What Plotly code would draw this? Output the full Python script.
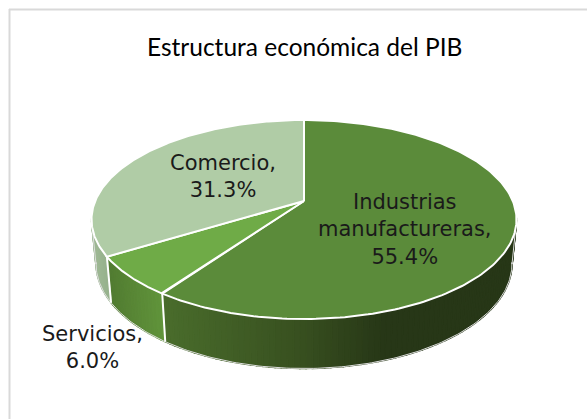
import numpy as np
import plotly.graph_objects as go

# --- data ---
categories = ["Industrias<br>manufactureras,", "Servicios,", "Comercio,"]
values = [55.4, 6.0, 31.3]
value_labels = ["55.4%", "6.0%", "31.3%"]
title_text = "Estructura económica del PIB"

# --- styling and projection of the tilted disc ---
top_colors = ["#5b8b3a", "#6fab47", "#b0cca6"]
# wall colour stops per slice: (pixel x, (r, g, b))
wall_stops = [
    [(163, (74, 109, 44)), (300, (56, 80, 32)), (385, (39, 55, 23)), (520, (39, 55, 23))],
    [(108, (82, 124, 50)), (163, (98, 150, 60))],
    [(90, (160, 186, 150)), (112, (147, 174, 137))],
]
CX, CY, RX, RY = 304.0, 219.5, 212.5, 99.5          # top face ellipse
BCX, BCY, BRX, BRY = 304.0, 263.5, 208.0, 105.0     # bottom rim ellipse
TILT = 0.186                                        # perspective shift of the disc centre


def project(theta):
    u, v = np.sin(theta), np.cos(theta)
    d = 1 + TILT * v
    return u * np.sqrt(1 - TILT ** 2) / d, (v + TILT) / d


def top_pt(theta):
    X, Y = project(theta)
    return CX + RX * X, CY - RY * Y


def bot_pt(theta):
    X, Y = project(theta)
    return BCX + BRX * X, BCY - BRY * Y


def wall_color(stops, x):
    xs = [s[0] for s in stops]
    return "rgb(%d,%d,%d)" % tuple(np.interp(x, xs, [s[1][i] for s in stops]) for i in range(3))


shares = np.array(values) / sum(values)
edges = np.concatenate([[0], np.cumsum(shares)]) * 2 * np.pi

fig = go.Figure()


def poly(xs, ys, fill, line_color=None, width=0):
    fig.add_trace(go.Scatter(
        x=list(xs), y=list(ys), mode="lines", fill="toself", fillcolor=fill,
        line=dict(color=line_color or fill, width=width if line_color else 1.4),
        hoverinfo="skip", showlegend=False))


def line(xs, ys, color="white", width=2):
    fig.add_trace(go.Scatter(x=list(xs), y=list(ys), mode="lines",
                             line=dict(color=color, width=width),
                             hoverinfo="skip", showlegend=False))


# side walls, slice by slice, as thin strips
for i in range(3):
    a, b = edges[i], edges[i + 1]
    ts = np.linspace(a, b, int((b - a) * 40) + 2)
    for t0, t1 in zip(ts[:-1], ts[1:]):
        if project((t0 + t1) / 2)[1] > 0.02:
            continue
        x0, y0 = top_pt(t0); x1, y1 = top_pt(t1)
        x2, y2 = bot_pt(t1); x3, y3 = bot_pt(t0)
        poly([x0, x1, x2, x3, x0], [y0, y1, y2, y3, y0], wall_color(wall_stops[i], (x0 + x1) / 2))

# light outline of the lower rim
ts = np.linspace(0, 2 * np.pi, 400)
visible = [t for t in ts if project(t)[1] < 0.02]
order = sorted(visible, key=lambda t: top_pt(t)[0])
line([bot_pt(t)[0] for t in order], [bot_pt(t)[1] for t in order], "#dedede", 1)
for sgn in (-1, 1):
    side = min(ts, key=lambda q: abs(project(q)[1]) + (0 if np.sign(project(q)[0]) == sgn else 9))
    line([top_pt(side)[0], bot_pt(side)[0]], [top_pt(side)[1], bot_pt(side)[1]], "#dedede", 1)

# separators on the walls
for e in edges[1:3]:
    line([top_pt(e)[0], bot_pt(e)[0]], [top_pt(e)[1], bot_pt(e)[1]], "white", 2)

# top face
apex_x, apex_y = CX, CY - RY * TILT
for i in range(3):
    ts = np.linspace(edges[i], edges[i + 1], 200)
    pts = [top_pt(t) for t in ts]
    xs = [apex_x] + [p[0] for p in pts] + [apex_x]
    ys = [apex_y] + [p[1] for p in pts] + [apex_y]
    poly(xs, ys, top_colors[i], "white", 2)

fig.add_shape(type="line", x0=9, x1=587, y0=9.5, y1=9.5, line=dict(color="#d9d9d9", width=2))
fig.add_shape(type="line", x0=9.5, x1=9.5, y0=9, y1=419, line=dict(color="#d9d9d9", width=2))

label_font = dict(family="DejaVu Sans, sans-serif", size=21, color="#1a1a1a")
label_pos = [(405, 229), (92, 347), (223, 176)]
for cat, lab, (lx, ly) in zip(categories, value_labels, label_pos):
    fig.add_annotation(x=lx, y=ly, text=cat + "<br>" + lab, showarrow=False,
                       font=label_font, align="center", xanchor="center", yanchor="middle")
fig.add_annotation(x=304, y=46.5, text=title_text, showarrow=False,
                   font=dict(family="Lato, sans-serif", size=24.5, color="#000000"),
                   xanchor="center", yanchor="middle")

fig.update_layout(
    width=587, height=419, margin=dict(l=0, r=0, t=0, b=0),
    paper_bgcolor="white", plot_bgcolor="white", showlegend=False,
    xaxis=dict(range=[0, 587], visible=False, fixedrange=True),
    yaxis=dict(range=[419, 0], visible=False, fixedrange=True),
)
fig.write_html("out.html", config=dict(displayModeBar=False),
               post_script="document.body.style.margin='0';document.documentElement.style.overflow='hidden';")
